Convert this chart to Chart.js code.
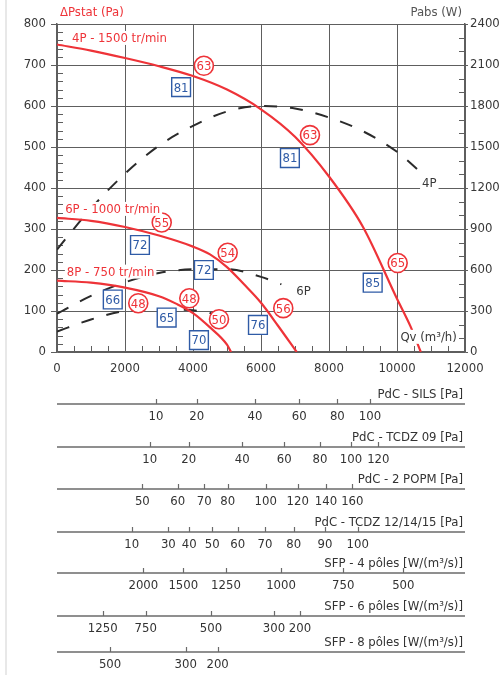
<!DOCTYPE html>
<html>
<head>
<meta charset="utf-8">
<script src="https://cdn.jsdelivr.net/npm/chart.js@4/dist/chart.umd.min.js"></script>
<style>
  html, body { margin: 0; padding: 0; background: #fff; }
  #wrap { position: relative; width: 503px; height: 675px; }
  #edge { position: absolute; left: 5px; top: 0; width: 2px; height: 675px; background: #e8e8e8; }
</style>
</head>
<body>
<div id="wrap">
  <canvas id="fanChart" width="503" height="675"></canvas>
  <div id="edge"></div>
</div>
<script>
// Axis ticks
const qvTicks = [0, 2000, 4000, 6000, 8000, 10000, 12000];
const paTicks = [0, 100, 200, 300, 400, 500, 600, 700, 800];
const wTicks = [0, 300, 600, 900, 1200, 1500, 1800, 2100, 2400];

// Static pressure curves (Pa) vs flow (m3/h)
const qv4P = [0, 1000, 2000, 3000, 4000, 5000, 6000, 7000, 8000, 9000, 10000, 10400, 10700];
const pa4P = [750, 735, 717, 697, 673, 640, 592, 525, 428, 305, 130, 62, 0];
const qv6P = [0, 1000, 2000, 3000, 4000, 4500, 5000, 5500, 6000, 6500, 7050];
const pa6P = [327, 320, 305, 284, 257, 238, 207, 165, 120, 64, 0];
const qv8P = [0, 1000, 2000, 3000, 3500, 4000, 4500, 5000, 5120];
const pa8P = [174, 169, 157, 136, 118, 95, 60, 18, 0];

// Absorbed power curves (W)
const qvW4P = [0, 1000, 2000, 3000, 4000, 5000, 6000, 7000, 8000, 9000, 10000, 10700];
const w4P = [750, 1050, 1305, 1510, 1655, 1760, 1800, 1782, 1716, 1615, 1465, 1315];
const qvW6P = [0, 1000, 2000, 3000, 4000, 5000, 6000, 6600];
const w6P = [280, 410, 510, 578, 605, 606, 550, 495];
const qvW8P = [0, 1000, 2000, 3000, 4000, 4500, 5100];
const w8P = [150, 238, 300, 313, 305, 285, 230];

// Marked points: red circles and blue boxes
const circQv = [4320, 7440, 10020, 3080, 5020, 6655, 2390, 3890, 4765];
const circPa = [698, 529, 217, 316, 242, 107, 119, 131, 80];
const circText = ['63', '63', '65', '55', '54', '56', '48', '48', '50'];
const boxQv = [3650, 6850, 9285, 2440, 4320, 5910, 1640, 3225, 4175];
const boxPa = [646, 473, 169, 261, 200, 66, 128, 84, 29];
const boxText = ['81', '81', '85', '72', '72', '76', '66', '65', '70'];

// Auxiliary scales below the chart (value -> flow position)
const silsPa = [10, 20, 40, 60, 80, 100];
const silsQv = [2910, 4110, 5820, 7125, 8245, 9205];
const tcdz09Pa = [10, 20, 40, 60, 80, 100, 120];
const tcdz09Qv = [2725, 3875, 5450, 6685, 7735, 8645, 9450];
const popmPa = [50, 60, 70, 80, 100, 120, 140, 160];
const popmQv = [2510, 3550, 4330, 5020, 6140, 7080, 7910, 8685];
const tcdz12Pa = [10, 30, 40, 50, 60, 70, 80, 90, 100];
const tcdz12Qv = [2195, 3275, 3890, 4565, 5315, 6115, 6960, 7880, 8845];
const sfp4 = [2000, 1500, 1250, 1000, 750, 500];
const sfp4Qv = [2540, 3715, 4970, 6590, 8420, 10185];
const sfp6 = [1250, 750, 500, 300, 200];
const sfp6Qv = [1345, 2610, 4530, 6380, 7145];
const sfp8 = [500, 300, 200];
const sfp8Qv = [1560, 3785, 4725];

const red = '#ee3338';
const blue = '#2f5ba6';
const ink = '#383838';
const gridCol = '#5e5e5e';
const fontFamily = "'DejaVu Sans Condensed', 'Liberation Sans', sans-serif";
const fontPx = 13;

function pts(xs, ys) {
  return xs.map((x, i) => ({ x: x, y: ys[i] }));
}

const nomograms = [
  { title: 'PdC - SILS [Pa]', qv: silsQv, vals: silsPa },
  { title: 'PdC - TCDZ 09 [Pa]', qv: tcdz09Qv, vals: tcdz09Pa },
  { title: 'PdC - 2 POPM [Pa]', qv: popmQv, vals: popmPa },
  { title: 'PdC - TCDZ 12/14/15 [Pa]', qv: tcdz12Qv, vals: tcdz12Pa },
  { title: 'SFP - 4 pôles [W/(m³/s)]', qv: sfp4Qv, vals: sfp4 },
  { title: 'SFP - 6 pôles [W/(m³/s)]', qv: sfp6Qv, vals: sfp6 },
  { title: 'SFP - 8 pôles [W/(m³/s)]', qv: sfp8Qv, vals: sfp8 }
];
const nomoY = [404, 447, 489, 532, 573, 616, 652];

// free labels placed in data units (x: m3/h, y: Pa)
const freeLabels = [
  { text: '4P - 1500 tr/min', x: 440, y: 766, color: red, align: 'left' },
  { text: '6P - 1000 tr/min', x: 240, y: 349, color: red, align: 'left' },
  { text: '8P - 750 tr/min', x: 290, y: 196, color: red, align: 'left' },
  { text: '4P', x: 10950, y: 412, color: ink, align: 'center' },
  { text: '6P', x: 7250, y: 149, color: ink, align: 'center' },
  { text: 'Qv (m³/h)', x: 10930, y: 37, color: ink, align: 'center' }
];

// minor ticks + text on top of the curves
const extrasPlugin = {
  id: 'extras',
  beforeDatasetsDraw(chart) {
    const { ctx, chartArea: a, scales: { x, y, y1 } } = chart;
    ctx.save();
    ctx.strokeStyle = gridCol;
    ctx.lineWidth = 1;
    ctx.beginPath();
    for (let v = 500; v < 12000; v += 500) {
      const px = Math.round(x.getPixelForValue(v)) + 0.5;
      ctx.moveTo(px, a.bottom);
      ctx.lineTo(px, a.bottom - 6);
    }
    for (let v = 20; v < 800; v += 20) {
      const py = Math.round(y.getPixelForValue(v)) + 0.5;
      ctx.moveTo(a.left, py);
      ctx.lineTo(a.left + 6, py);
    }
    for (let v = 100; v < 2400; v += 100) {
      const py = Math.round(y1.getPixelForValue(v)) + 0.5;
      ctx.moveTo(a.right, py);
      ctx.lineTo(a.right - 6, py);
    }
    ctx.stroke();
    ctx.restore();
  },
  afterDatasetsDraw(chart) {
    const { ctx, scales: { x, y } } = chart;
    ctx.save();
    ctx.font = fontPx + 'px ' + fontFamily;
    ctx.textBaseline = 'middle';

    freeLabels.forEach(l => {
      const px = x.getPixelForValue(l.x);
      const py = y.getPixelForValue(l.y);
      const w = ctx.measureText(l.text).width;
      const left = l.align === 'left' ? px : px - w / 2;
      ctx.fillStyle = '#fff';
      ctx.fillRect(left - 2, py - 7, w + 4, 14);
      ctx.fillStyle = l.color;
      ctx.textAlign = 'left';
      ctx.fillText(l.text, left, py + 1);
    });

    ctx.textAlign = 'center';
    ctx.fillStyle = red;
    chart.getDatasetMeta(0).data.forEach((pt, i) => ctx.fillText(circText[i], pt.x, pt.y + 1));
    ctx.fillStyle = blue;
    chart.getDatasetMeta(1).data.forEach((pt, i) => ctx.fillText(boxText[i], pt.x, pt.y + 1));

    // axis titles
    ctx.textAlign = 'left';
    ctx.fillStyle = red;
    ctx.fillText('ΔPstat (Pa)', 60, 13);
    ctx.textAlign = 'right';
    ctx.fillStyle = '#555';
    ctx.fillText('Pabs (W)', 462, 13);
    ctx.restore();
  },
  afterDraw(chart) {
    const { ctx, chartArea: a, scales: { x } } = chart;
    ctx.save();
    ctx.font = fontPx + 'px ' + fontFamily;
    nomograms.forEach((n, k) => {
      const yl = nomoY[k];
      ctx.strokeStyle = '#6a6a6a';
      ctx.lineWidth = 1.6;
      ctx.beginPath();
      ctx.moveTo(a.left, yl);
      ctx.lineTo(a.right, yl);
      ctx.stroke();
      ctx.lineWidth = 1.2;
      ctx.beginPath();
      n.qv.forEach(q => {
        const px = Math.round(x.getPixelForValue(q)) + 0.5;
        ctx.moveTo(px, yl);
        ctx.lineTo(px, yl - 5);
      });
      ctx.stroke();
      ctx.fillStyle = '#333';
      ctx.textAlign = 'right';
      ctx.textBaseline = 'alphabetic';
      ctx.fillText(n.title, a.right - 2, yl - 6);
      ctx.textAlign = 'center';
      ctx.textBaseline = 'top';
      n.qv.forEach((q, i) => ctx.fillText(String(n.vals[i]), x.getPixelForValue(q), yl + 6));
    });
    ctx.restore();
  }
};

const tickFont = { family: fontFamily, size: fontPx };
const plain = v => String(v);
const powerDash = [13, 13];

new Chart(document.getElementById('fanChart'), {
  type: 'line',
  data: {
    datasets: [
      { label: 'circles', data: pts(circQv, circPa), yAxisID: 'y', showLine: false,
        pointStyle: 'circle', pointRadius: 9.5, pointBackgroundColor: '#fff',
        pointBorderColor: red, pointBorderWidth: 1.6, order: -2 },
      { label: 'boxes', data: pts(boxQv, boxPa), yAxisID: 'y', showLine: false,
        pointStyle: 'rect', pointRadius: 13.3, pointBackgroundColor: '#fff',
        pointBorderColor: blue, pointBorderWidth: 1.4, order: -1 },
      { label: '4P', data: pts(qv4P, pa4P), yAxisID: 'y', borderColor: red, borderWidth: 2.2 },
      { label: '6P', data: pts(qv6P, pa6P), yAxisID: 'y', borderColor: red, borderWidth: 2.2 },
      { label: '8P', data: pts(qv8P, pa8P), yAxisID: 'y', borderColor: red, borderWidth: 2.2 },
      { label: 'W 4P', data: pts(qvW4P, w4P), yAxisID: 'y1', borderColor: '#2b2b2b', borderWidth: 2, borderDash: powerDash },
      { label: 'W 6P', data: pts(qvW6P, w6P), yAxisID: 'y1', borderColor: '#2b2b2b', borderWidth: 2, borderDash: powerDash },
      { label: 'W 8P', data: pts(qvW8P, w8P), yAxisID: 'y1', borderColor: '#2b2b2b', borderWidth: 2, borderDash: powerDash }
    ]
  },
  options: {
    responsive: false,
    animation: false,
    devicePixelRatio: 1,
    layout: { padding: { top: 24, left: 0, right: 0, bottom: 0 } },
    elements: {
      line: { cubicInterpolationMode: 'monotone', fill: false },
      point: { radius: 0, hoverRadius: 0 }
    },
    plugins: { legend: { display: false }, tooltip: { enabled: false } },
    scales: {
      x: {
        type: 'linear', min: 0, max: 12000,
        afterBuildTicks: s => { s.ticks = qvTicks.map(v => ({ value: v })); },
        afterFit: s => { s.height = 323; },
        grid: { color: gridCol, lineWidth: 1, drawTicks: false },
        border: { color: gridCol, width: 1.5 },
        ticks: { color: ink, font: tickFont, padding: 9, maxRotation: 0, autoSkip: false, callback: plain }
      },
      y: {
        position: 'left', min: 0, max: 800,
        afterBuildTicks: s => { s.ticks = paTicks.map(v => ({ value: v })); },
        afterFit: s => { s.width = 57; },
        grid: { color: gridCol, lineWidth: 1, tickLength: 6 },
        border: { color: gridCol, width: 1.5 },
        ticks: { color: ink, font: tickFont, padding: 5, callback: plain }
      },
      y1: {
        position: 'right', min: 0, max: 2400,
        afterBuildTicks: s => { s.ticks = wTicks.map(v => ({ value: v })); },
        afterFit: s => { s.width = 38; },
        grid: { drawOnChartArea: false, color: gridCol, tickLength: 3 },
        border: { color: gridCol, width: 1.5 },
        ticks: { color: ink, font: tickFont, padding: 2, callback: plain }
      }
    }
  },
  plugins: [extrasPlugin]
});
</script>
</body>
</html>
